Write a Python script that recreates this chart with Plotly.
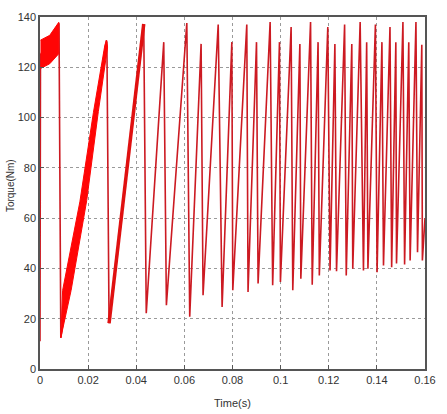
import plotly.graph_objects as go

# ---- data ----
# main sawtooth line: time (s), torque (Nm)
t_line = [0.0, 0.0002, 0.0079, 0.00865, 0.0276, 0.0278, 0.0287, 0.04311, 0.04416,
          0.05143, 0.05253, 0.06101, 0.06222, 0.06695, 0.06776, 0.07406, 0.07568,
          0.07972, 0.08012, 0.08594, 0.08646, 0.08998, 0.09063, 0.09564, 0.09669,
          0.09952, 0.09992, 0.10436, 0.10505, 0.10800, 0.10840, 0.11244, 0.11313,
          0.11556, 0.11608, 0.11960, 0.12053, 0.12255, 0.12323, 0.12659, 0.12727,
          0.12958, 0.12998, 0.13305, 0.13442, 0.13576, 0.13628, 0.13939, 0.14008,
          0.14210, 0.14275, 0.14545, 0.14614, 0.14788, 0.14816, 0.15083, 0.15152,
          0.15325, 0.15382, 0.15624, 0.15689, 0.15867, 0.15891, 0.16]
torque_line = [11, 125, 137.5, 12.4, 130.7, 130, 18.2, 137.2, 22.2,
               130, 25.4, 137.6, 20.8, 129.3, 29.3, 137, 24.7,
               130, 31.3, 137, 30.6, 130, 34, 138, 33.3,
               130, 34.6, 136, 31.3, 129.3, 35.9, 138, 33.5,
               130, 37.2, 136, 39.2, 129.3, 38.9, 137, 37.2,
               129.3, 39.9, 138, 39.2, 130, 39.9, 137, 38.5,
               130, 41.2, 136, 40.5, 130, 42, 138, 41.6,
               130, 43.2, 138, 46.4, 129, 43.2, 60]

# initial high-frequency band (0 - 0.0078 s)
band1_t = [0.0002, 0.00404, 0.0078]
band1_upper = [130.8, 132.7, 137.9]
band1_lower = [119.5, 121.4, 125.4]

# first ramp band (0.0087 - 0.028 s)
band2_upper_t = [0.00865, 0.00941, 0.01657, 0.0222, 0.02695, 0.0276]
band2_upper_v = [12.4, 31.3, 66.5, 102, 128.8, 130.7]
band2_lower_t = [0.00865, 0.01293, 0.01939, 0.02424, 0.02808]
band2_lower_v = [12.4, 31.3, 66.9, 102.4, 128]

# second (thinner) ramp
ramp2_t = [0.0287, 0.04311]
ramp2_v = [18.2, 137.2]

x_ticks = [0, 0.02, 0.04, 0.06, 0.08, 0.1, 0.12, 0.14, 0.16]
x_tick_labels = ["0", "0.02", "0.04", "0.06", "0.08", "0.1", "0.12", "0.14", "0.16"]
y_ticks = [0, 20, 40, 60, 80, 100, 120, 140]

RED = "#ff0505"
LINE = "#cc1a22"

fig = go.Figure()

# main line
fig.add_trace(go.Scatter(x=t_line, y=torque_line, mode="lines",
                         line=dict(color=LINE, width=1.6), hoverinfo="skip"))

# band 1
fig.add_trace(go.Scatter(x=band1_t + band1_t[::-1],
                         y=band1_upper + band1_lower[::-1],
                         fill="toself", fillcolor=RED, mode="lines",
                         line=dict(color=RED, width=1), hoverinfo="skip"))
# band 2
fig.add_trace(go.Scatter(x=band2_upper_t + band2_lower_t[::-1],
                         y=band2_upper_v + band2_lower_v[::-1],
                         fill="toself", fillcolor=RED, mode="lines",
                         line=dict(color=RED, width=1), hoverinfo="skip"))
# ramp 2
fig.add_trace(go.Scatter(x=ramp2_t, y=ramp2_v, mode="lines",
                         line=dict(color="#e01010", width=3.5), hoverinfo="skip"))

FONT = "Liberation Sans Narrow, Arial Narrow, Liberation Sans, Arial, sans-serif"

axis_common = dict(
    showgrid=True, gridcolor="#9a9a9a", griddash="dot", gridwidth=1,
    showline=True, mirror=True, linecolor="#555555", linewidth=1.5,
    ticks="inside", ticklen=4, tickcolor="#555555",
    zeroline=False,
    tickfont=dict(family=FONT, size=11, color="#333333"),
)

fig.update_xaxes(range=[0, 0.16], tickvals=x_ticks, ticktext=x_tick_labels, **axis_common)
fig.update_yaxes(range=[0, 140], tickvals=y_ticks, **axis_common)

fig.update_layout(
    width=447, height=414,
    margin=dict(l=40, r=11, t=15, b=45),
    plot_bgcolor="white", paper_bgcolor="white",
    showlegend=False,
    annotations=[
        dict(text="Time(s)", x=0.5, xref="paper", y=-0.075, yref="paper",
             xanchor="center", yanchor="top", showarrow=False,
             font=dict(family=FONT, size=11, color="#333333")),
        dict(text="Torque(Nm)", x=-0.075, xref="paper", y=0.52, yref="paper",
             xanchor="center", yanchor="middle", showarrow=False, textangle=-90,
             font=dict(family=FONT, size=10, color="#333333")),
    ],
)

fig.write_html("out.html")
